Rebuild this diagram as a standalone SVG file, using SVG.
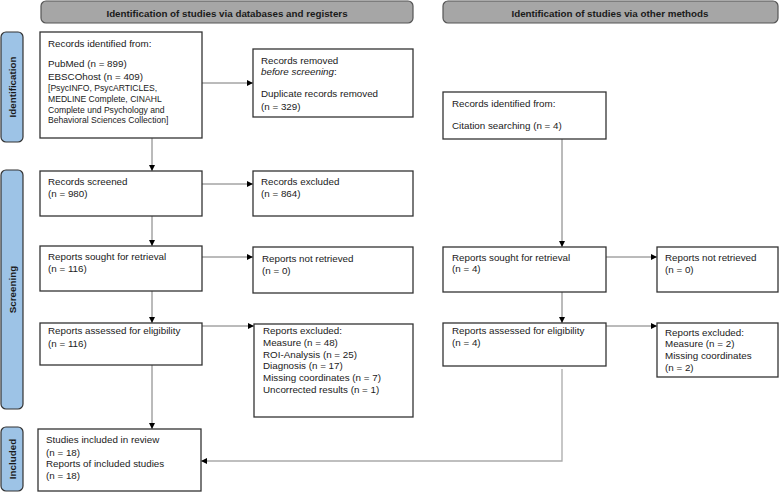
<svg xmlns="http://www.w3.org/2000/svg" width="779" height="493" viewBox="0 0 779 493">
<style>
text{font-family:"Liberation Sans",Arial,sans-serif;font-size:9.8px;fill:#1a1a1a}
.sm{font-size:8.6px}
.hd{fill:#a6a6a6;stroke:#555;stroke-width:1.2}
.hdt{font-weight:bold;text-anchor:middle}
.sb{fill:#9dc3e6;stroke:#333;stroke-width:1.2}
.sbt{font-weight:bold;text-anchor:middle}
.bx{fill:#fff;stroke:#333;stroke-width:1.3}
.cn{fill:none;stroke:#777;stroke-width:1}
.cl{fill:none;stroke:#aaa;stroke-width:1.3}
</style>
<defs>
<marker id="ah" viewBox="0 0 10 10" refX="10" refY="5" markerWidth="6" markerHeight="6" orient="auto" markerUnits="userSpaceOnUse">
<path d="M0,0 L10,5 L0,10 z" fill="#000"/>
</marker>
</defs>

<g id="header-left"><rect class="hd" x="41" y="1" width="372" height="22" rx="5"/><text class="hdt" x="227" y="16.5">Identification of studies via databases and registers</text></g>
<g id="header-right"><rect class="hd" x="443" y="1" width="335" height="22" rx="5"/><text class="hdt" x="610" y="16.5">Identification of studies via other methods</text></g>

<g id="side-identification"><rect class="sb" x="1" y="32" width="22" height="110" rx="5"/><text class="sbt" transform="translate(15.5,87) rotate(-90)">Identification</text></g>
<g id="side-screening"><rect class="sb" x="1" y="170" width="22" height="239" rx="5"/><text class="sbt" transform="translate(15.5,289.5) rotate(-90)">Screening</text></g>
<g id="side-included"><rect class="sb" x="1" y="427" width="22" height="64" rx="5"/><text class="sbt" transform="translate(15.5,459) rotate(-90)">Included</text></g>

<g id="connectors">
<line class="cn" x1="202" y1="83" x2="253" y2="83" marker-end="url(#ah)"/>
<line class="cn" x1="152" y1="138" x2="152" y2="171" marker-end="url(#ah)"/>
<line class="cn" x1="202" y1="184" x2="253" y2="184" marker-end="url(#ah)"/>
<line class="cn" x1="152" y1="216" x2="152" y2="246" marker-end="url(#ah)"/>
<line class="cn" x1="202" y1="257" x2="253" y2="257" marker-end="url(#ah)"/>
<line class="cn" x1="152" y1="291" x2="152" y2="323" marker-end="url(#ah)"/>
<line class="cn" x1="202" y1="326" x2="254" y2="326" marker-end="url(#ah)"/>
<line class="cn" x1="152" y1="365" x2="152" y2="429" marker-end="url(#ah)"/>
<line class="cn" x1="562" y1="139" x2="562" y2="247" marker-end="url(#ah)"/>
<line class="cn" x1="606" y1="257" x2="657" y2="257" marker-end="url(#ah)"/>
<line class="cn" x1="562" y1="292" x2="562" y2="323" marker-end="url(#ah)"/>
<line class="cn" x1="606" y1="326" x2="657" y2="326" marker-end="url(#ah)"/>
<polyline class="cl" points="562,369 562,461 201,461" marker-end="url(#ah)"/>
</g>

<g id="records-identified"><rect class="bx" x="40" y="32" width="162" height="106"/>
<text x="48" y="46.5">Records identified from:</text>
<text x="48" y="66.5">PubMed (n = 899)</text>
<text x="48" y="79.5">EBSCOhost (n = 409)</text>
<text class="sm" x="48" y="90.5">[PsycINFO, PsycARTICLES,</text>
<text class="sm" x="48" y="102">MEDLINE Complete, CINAHL</text>
<text class="sm" x="48" y="112.5">Complete und Psychology and</text>
<text class="sm" x="48" y="122.5">Behavioral Sciences Collection]</text>
</g>
<g id="records-removed"><rect class="bx" x="253" y="49" width="160" height="68"/>
<text x="261" y="63.5">Records removed</text>
<text x="261" y="74.5" font-style="italic">before screening<tspan font-style="normal">:</tspan></text>
<text x="261" y="96.5">Duplicate records removed</text>
<text x="261" y="110">(n = 329)</text>
</g>
<g id="records-screened"><rect class="bx" x="40" y="171" width="162" height="45"/>
<text x="48" y="184.5">Records screened</text>
<text x="48" y="196.5">(n = 980)</text>
</g>
<g id="records-excluded"><rect class="bx" x="253" y="171" width="160" height="45"/>
<text x="261" y="184.5">Records excluded</text>
<text x="261" y="196.5">(n = 864)</text>
</g>
<g id="reports-sought"><rect class="bx" x="40" y="246" width="162" height="45"/>
<text x="48" y="259.5">Reports sought for retrieval</text>
<text x="48" y="271.5">(n = 116)</text>
</g>
<g id="reports-not-retrieved"><rect class="bx" x="253" y="247" width="160" height="46"/>
<text x="262" y="261.5">Reports not retrieved</text>
<text x="262" y="273.5">(n = 0)</text>
</g>
<g id="reports-assessed"><rect class="bx" x="40" y="323" width="162" height="42"/>
<text x="48" y="333.5">Reports assessed for eligibility</text>
<text x="48" y="346.5">(n = 116)</text>
</g>
<g id="reports-excluded"><rect class="bx" x="254" y="324" width="159" height="93"/>
<text x="263" y="333.5">Reports excluded:</text>
<text x="263" y="345.5">Measure (n = 48)</text>
<text x="263" y="357.5">ROI-Analysis (n = 25)</text>
<text x="263" y="368.5">Diagnosis (n = 17)</text>
<text x="263" y="380.5">Missing coordinates (n = 7)</text>
<text x="263" y="392.5">Uncorrected results (n = 1)</text>
</g>
<g id="included"><rect class="bx" x="38" y="429" width="163" height="62"/>
<text x="46" y="442.5">Studies included in review</text>
<text x="46" y="455.5">(n = 18)</text>
<text x="46" y="466.5">Reports of included studies</text>
<text x="46" y="478.5">(n = 18)</text>
</g>

<g id="other-identified"><rect class="bx" x="443" y="92" width="163" height="47"/>
<text x="452" y="106.5">Records identified from:</text>
<text x="452" y="128.5">Citation searching (n = 4)</text>
</g>
<g id="other-sought"><rect class="bx" x="443" y="247" width="163" height="45"/>
<text x="452" y="260.5">Reports sought for retrieval</text>
<text x="452" y="271.5">(n = 4)</text>
</g>
<g id="other-not-retrieved"><rect class="bx" x="657" y="247" width="121" height="45"/>
<text x="665" y="260.5">Reports not retrieved</text>
<text x="665" y="272.5">(n = 0)</text>
</g>
<g id="other-assessed"><rect class="bx" x="443" y="323" width="163" height="43"/>
<text x="452" y="333.5">Reports assessed for eligibility</text>
<text x="452" y="345.5">(n = 4)</text>
</g>
<g id="other-excluded"><rect class="bx" x="657" y="323" width="121" height="54"/>
<text x="665" y="335.5">Reports excluded:</text>
<text x="665" y="346.5">Measure (n = 2)</text>
<text x="665" y="358.5">Missing coordinates</text>
<text x="665" y="370.5">(n = 2)</text>
</g>
</svg>
